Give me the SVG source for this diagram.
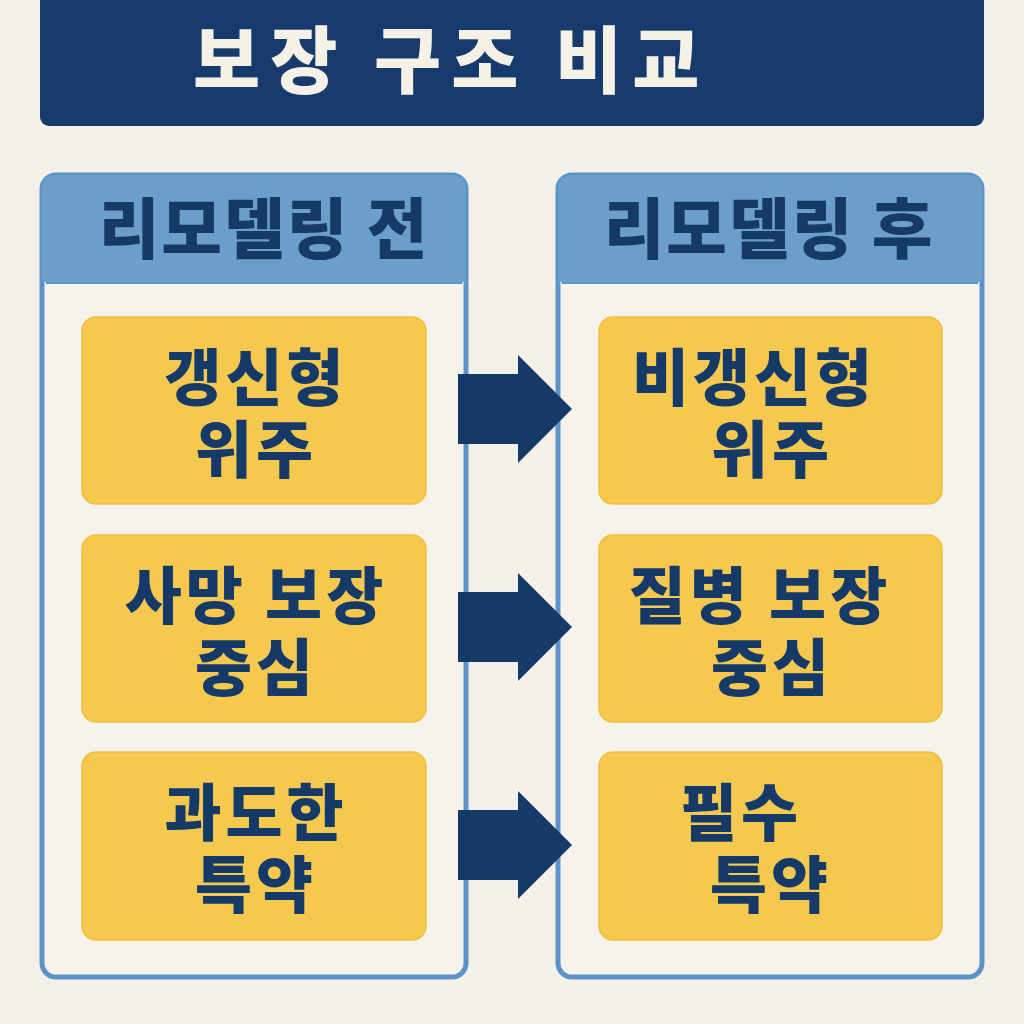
<svg xmlns="http://www.w3.org/2000/svg" width="1024" height="1024" viewBox="0 0 1024 1024">
<style>
.kt{font-family:"Noto Sans CJK KR","Noto Sans",sans-serif;font-weight:900;fill:#163a68;text-anchor:middle}
.bt{font-size:62px;letter-spacing:4px}
.ht{font-size:66px;letter-spacing:2px}
.title{font-family:"Noto Sans CJK KR","Noto Sans",sans-serif;font-weight:900;fill:#f6f1e6;font-size:73px;letter-spacing:10px}
.panel{fill:#f6f3ec;stroke:#5e93c8;stroke-width:5}
.head{fill:#6b9ec9}
.box{fill:#f5c94f;stroke:#f0c03a;stroke-width:1.5}
.arrow{fill:#163a68}
</style>
<rect width="1024" height="1024" fill="#f4f1ea"/>
<g id="title">
<rect x="40" y="-20" width="944" height="146" rx="9" fill="#153a6b"/>
<text class="title" x="193" y="87">보장 구조 비교</text>
</g>
<g id="panel-before">
<rect class="panel" x="42" y="175" width="424" height="802" rx="14"/>
<path class="head" d="M56 175 H452 Q466 175 466 189 V282 H42 V189 Q42 175 56 175 Z"/>
<line x1="46" y1="283" x2="462" y2="283" stroke="#5e93c8" stroke-width="2"/>
<text class="kt ht" x="264" y="253">리모델링 전</text>
</g>
<g id="panel-after">
<rect class="panel" x="558" y="175" width="424" height="802" rx="14"/>
<path class="head" d="M572 175 H968 Q982 175 982 189 V282 H558 V189 Q558 175 572 175 Z"/>
<line x1="562" y1="283" x2="978" y2="283" stroke="#5e93c8" stroke-width="2"/>
<text class="kt ht" x="769" y="253">리모델링 후</text>
</g>
<g id="before-1"><rect class="box" x="82" y="317" width="344" height="187" rx="14"/>
<text class="kt bt" x="256" y="401">갱신형</text><text class="kt bt" x="256" y="473">위주</text></g>
<g id="before-2"><rect class="box" x="82" y="535" width="344" height="187" rx="14"/>
<text class="kt bt" x="256" y="619">사망 보장</text><text class="kt bt" x="256" y="691">중심</text></g>
<g id="before-3"><rect class="box" x="82" y="752" width="344" height="188" rx="14"/>
<text class="kt bt" x="256" y="836">과도한</text><text class="kt bt" x="256" y="908">특약</text></g>
<g id="after-1"><rect class="box" x="599" y="317" width="343" height="187" rx="14"/>
<text class="kt bt" x="754" y="401">비갱신형</text><text class="kt bt" x="772" y="473">위주</text></g>
<g id="after-2"><rect class="box" x="599" y="535" width="343" height="187" rx="14"/>
<text class="kt bt" x="760" y="619">질병 보장</text><text class="kt bt" x="772" y="691">중심</text></g>
<g id="after-3"><rect class="box" x="599" y="752" width="343" height="188" rx="14"/>
<text class="kt bt" x="741" y="836">필수</text><text class="kt bt" x="771" y="908">특약</text></g>
<g id="connectors">
<path class="arrow" d="M458 374 H518 V355 L572 409 L518 463 V444 H458 Z"/>
<path class="arrow" d="M458 592 H518 V573 L572 627 L518 681 V662 H458 Z"/>
<path class="arrow" d="M458 810 H518 V791 L572 845 L518 899 V880 H458 Z"/>
</g>
</svg>
